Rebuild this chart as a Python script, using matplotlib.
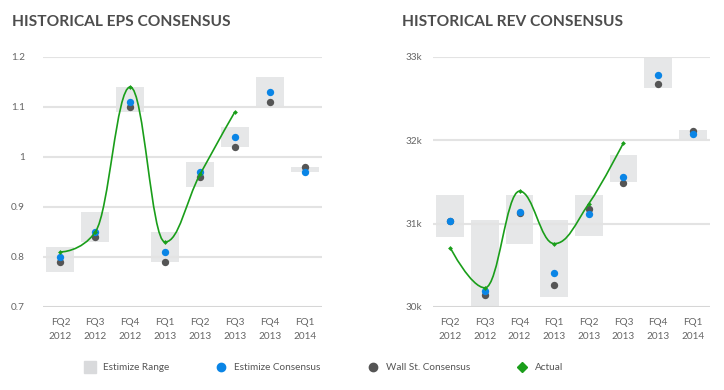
import numpy as np
import matplotlib
matplotlib.use("Agg")
import matplotlib.pyplot as plt
from matplotlib.path import Path
from matplotlib.patches import PathPatch, Rectangle
from matplotlib.lines import Line2D

plt.rcParams['font.family'] = ['Lato', 'DejaVu Sans']

quarters = ["FQ2\n2012", "FQ3\n2012", "FQ4\n2012", "FQ1\n2013",
            "FQ2\n2013", "FQ3\n2013", "FQ4\n2013", "FQ1\n2014"]

# EPS
eps_low = [0.77, 0.83, 1.09, 0.79, 0.94, 1.02, 1.10, 0.97]
eps_high = [0.82, 0.89, 1.14, 0.85, 0.99, 1.06, 1.16, 0.98]
eps_estimize = [0.80, 0.85, 1.11, 0.81, 0.97, 1.04, 1.13, 0.97]
eps_wallst = [0.79, 0.84, 1.10, 0.79, 0.96, 1.02, 1.11, 0.98]
eps_actual = [0.81, 0.85, 1.14, 0.83, 0.965, 1.09]
eps_ticks = [0.7, 0.8, 0.9, 1.0, 1.1, 1.2]
eps_ticklabels = ["0.7", "0.8", "0.9", "1", "1.1", "1.2"]

# Revenue
rev_low = [30840, 30000, 30760, 30120, 30850, 31500, 32630, 32000]
rev_high = [31350, 31050, 31350, 31050, 31340, 31830, 33000, 32120]
rev_estimize = [31030, 30190, 31140, 30410, 31120, 31560, 32790, 32080]
rev_wallst = [31030, 30150, 31130, 30270, 31180, 31490, 32680, 32110]
rev_actual = [30710, 30230, 31390, 30760, 31240, 31970]
rev_ticks = [30000, 31000, 32000, 33000]
rev_ticklabels = ["30k", "31k", "32k", "33k"]

BLUE = "#0a85e6"
DARK = "#555555"
GREEN = "#1a9e1a"
RANGE = "#e6e7e8"
GRID = "#e3e3e3"
TXT = "#666666"


def spline_path(xs, ys, smoothing=1.5):
    # highcharts style spline
    n = len(xs)
    left = [None] * n
    right = [None] * n
    den = smoothing + 1
    for i in range(1, n - 1):
        px, py = xs[i], ys[i]
        lx, ly = xs[i - 1], ys[i - 1]
        nx, ny = xs[i + 1], ys[i + 1]
        lcx = (smoothing * px + lx) / den
        lcy = (smoothing * py + ly) / den
        rcx = (smoothing * px + nx) / den
        rcy = (smoothing * py + ny) / den
        corr = (rcy - lcy) * (rcx - px) / (rcx - lcx) + py - rcy
        lcy += corr
        rcy += corr
        if lcy > ly and lcy > py:
            lcy = max(ly, py)
            rcy = 2 * py - lcy
        elif lcy < ly and lcy < py:
            lcy = min(ly, py)
            rcy = 2 * py - lcy
        if rcy > ny and rcy > py:
            rcy = max(ny, py)
            lcy = 2 * py - rcy
        elif rcy < ny and rcy < py:
            rcy = min(ny, py)
            lcy = 2 * py - rcy
        left[i] = (lcx, lcy)
        right[i] = (rcx, rcy)
    verts = [(xs[0], ys[0])]
    codes = [Path.MOVETO]
    for i in range(1, n):
        c1 = right[i - 1] if right[i - 1] else (xs[i - 1], ys[i - 1])
        c2 = left[i] if left[i] else (xs[i], ys[i])
        verts += [c1, c2, (xs[i], ys[i])]
        codes += [Path.CURVE4] * 3
    return Path(verts, codes)


def draw(ax, low, high, est, wst, act, ticks, ticklabels, ypad):
    x = np.arange(len(quarters))
    for i in x:
        ax.add_patch(Rectangle((i - 0.4, low[i]), 0.8, high[i] - low[i],
                               facecolor=RANGE, edgecolor="none", zorder=1))
    ax.scatter(x, wst, s=28, color=DARK, zorder=4, linewidths=0)
    ax.scatter(x, est, s=28, color=BLUE, zorder=5, linewidths=0)
    xa = np.arange(len(act))
    ax.add_patch(PathPatch(spline_path(list(xa), list(act)), facecolor="none",
                           edgecolor=GREEN, lw=1.2, zorder=6))
    ax.scatter(xa, act, s=6, marker="D", color=GREEN, zorder=7, linewidths=0)
    ax.set_xlim(-0.5, len(quarters) - 0.5)
    ax.set_ylim(ticks[0], ticks[-1])
    ax.set_yticks(ticks)
    ax.set_yticklabels(ticklabels)
    ax.set_xticks(x)
    ax.set_xticklabels(quarters, linespacing=1.7)
    ax.tick_params(length=0, labelsize=7.2, colors=TXT)
    ax.tick_params(axis="y", pad=ypad)
    ax.tick_params(axis="x", pad=8)
    for s in ax.spines.values():
        s.set_visible(False)
    ax.grid(axis="y", color=GRID, lw=1.5)
    ax.axhline(ticks[0], color="#d5d5d5", lw=2, zorder=3)
    for gl in ax.get_ygridlines():
        gl.set_zorder(2)
    ax.set_facecolor("none")


fig = plt.figure(figsize=(7.24, 3.9), dpi=100)
ax1 = fig.add_axes([43 / 724, 1 - 307 / 390, 279 / 724, 250 / 390])
ax2 = fig.add_axes([433 / 724, 1 - 307 / 390, 277 / 724, 250 / 390])

draw(ax1, eps_low, eps_high, eps_estimize, eps_wallst, eps_actual,
     eps_ticks, eps_ticklabels, 13)
draw(ax2, rev_low, rev_high, rev_estimize, rev_wallst, rev_actual,
     rev_ticks, rev_ticklabels, 8)

fig.text(12 / 724, 1 - 22 / 390, "HISTORICAL EPS CONSENSUS", fontsize=11.2,
         fontweight="bold", color="#4d4d4d", va="center")
fig.text(402 / 724, 1 - 22 / 390, "HISTORICAL REV CONSENSUS", fontsize=11.2,
         fontweight="bold", color="#4d4d4d", va="center")

handles = [
    Line2D([], [], ls="none", marker="s", markersize=8, color="#d9dadc"),
    Line2D([], [], ls="none", marker="o", markersize=6, color=BLUE),
    Line2D([], [], ls="none", marker="o", markersize=6, color=DARK),
    Line2D([], [], ls="none", marker="D", markersize=5.5, color=GREEN),
]
labels = ["Estimize Range", "Estimize Consensus", "Wall St. Consensus", "Actual"]
leg = fig.legend(handles, labels, loc="center", ncol=4, frameon=False,
                 bbox_to_anchor=(324 / 724, 1 - 368 / 390), fontsize=7.2,
                 handlelength=1, handletextpad=0.8, columnspacing=4.7,
                 labelcolor="#555555")

fig.savefig("out.png", dpi=100)
